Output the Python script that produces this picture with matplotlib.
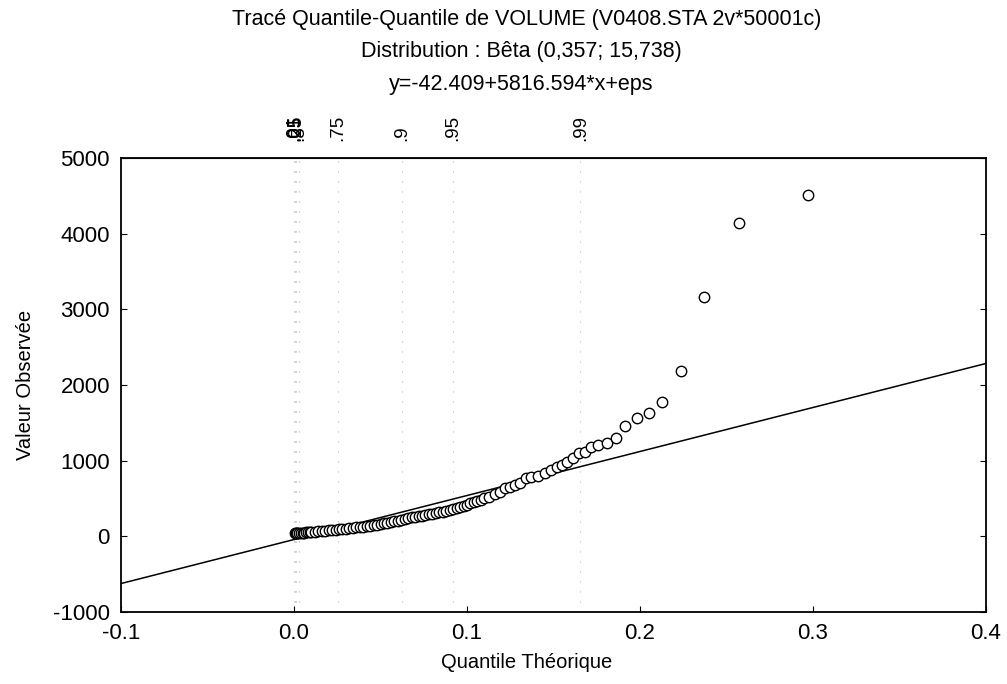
import numpy as np
import matplotlib
matplotlib.use('Agg')
import matplotlib.pyplot as plt

plt.rcParams['font.family'] = ['Liberation Sans', 'DejaVu Sans']
plt.rcParams['axes.unicode_minus'] = False

# Observed points: theoretical quantile (x) vs observed value (y)
theo_q = [0.0005, 0.001, 0.0015, 0.002, 0.003, 0.004, 0.005, 0.006, 0.007, 0.008,
          0.009, 0.010, 0.012, 0.014, 0.016, 0.018, 0.020, 0.022, 0.024, 0.026,
          0.028, 0.030, 0.032, 0.034, 0.036, 0.038, 0.040, 0.042, 0.044, 0.046,
          0.048, 0.050, 0.052, 0.054, 0.056, 0.058, 0.060, 0.062, 0.064, 0.066,
          0.068, 0.070, 0.072, 0.074, 0.076, 0.078, 0.080, 0.082, 0.084, 0.086,
          0.088, 0.090, 0.092, 0.094, 0.096, 0.098, 0.100, 0.102, 0.104, 0.106,
          0.108, 0.110, 0.113, 0.116, 0.119, 0.1218, 0.1246, 0.1275, 0.1305, 0.134,
          0.137, 0.141, 0.1448, 0.1486, 0.152, 0.155, 0.158, 0.161, 0.165, 0.168,
          0.1715, 0.176, 0.181, 0.186, 0.1916, 0.198, 0.205, 0.213, 0.2235, 0.237,
          0.257, 0.297]
observed = [38, 40, 41, 42, 44, 46, 48, 50, 52, 54,
            56, 58, 62, 66, 70, 74, 78, 82, 87, 92,
            97, 102, 106, 111, 117, 122, 128, 134, 141, 148,
            156, 164, 172, 180, 188, 196, 205, 215, 226, 238,
            250, 258, 266, 274, 282, 290, 298, 306, 315, 326,
            338, 350, 362, 378, 392, 405, 420, 436, 450, 466,
            482, 502, 523, 559, 589, 634, 655, 678, 700, 766,
            780, 797, 833, 876, 912, 942, 986, 1031, 1105, 1118,
            1176, 1206, 1229, 1295, 1458, 1559, 1634, 1779, 2186, 3165,
            4143, 4513]

# fitted line y = a + b*x
intercept = -42.409
slope = 5816.594

# percentile positions on the top axis
pct_labels = ['.01', '.05', '.25', '.5', '.75', '.9', '.95', '.99']
pct_pos = [0.0, 0.0003, 0.0012, 0.003, 0.0255, 0.0625, 0.092, 0.1656]

x_ticks = [-0.1, 0.0, 0.1, 0.2, 0.3, 0.4]
y_ticks = [-1000, 0, 1000, 2000, 3000, 4000, 5000]

fig = plt.figure(figsize=(10.07, 6.84), dpi=100)
ax = fig.add_axes([0.1202, 0.1053, 0.8589, 0.6637])

for p in pct_pos:
    ax.axvline(p, color='#b8b8b8', lw=0.8, ls=(0, (1, 8)), zorder=0)

xl = np.array([-0.1, 0.4])
ax.plot(xl, intercept + slope * xl, color='black', lw=1.1)
ax.plot(theo_q, observed, 'o', mfc='white', mec='black', ms=7.5, mew=1.0)

ax.set_xlim(-0.1, 0.4)
ax.set_ylim(-1000, 5000)
ax.set_xticks(x_ticks)
ax.set_xticklabels(['-0.1', '0.0', '0.1', '0.2', '0.3', '0.4'])
ax.set_yticks(y_ticks)
ax.tick_params(direction='in', length=4, labelsize=16, right=True, pad=8)
for s in ax.spines.values():
    s.set_linewidth(1.3)

top = ax.secondary_xaxis('top')
top.set_xticks(pct_pos)
top.set_xticklabels(pct_labels, rotation=90, fontsize=13.5)
top.tick_params(length=0, pad=12)

ax.set_xlabel('Quantile Théorique', fontsize=14.5)
ax.xaxis.set_label_coords(0.469, -0.09)
ax.set_ylabel('Valeur Observée', fontsize=14.5)
ax.yaxis.set_label_coords(-0.1, 0.5)

fig.text(0.523, 0.971, 'Tracé Quantile-Quantile de VOLUME (V0408.STA 2v*50001c)',
         ha='center', va='center', fontsize=15.5)
fig.text(0.518, 0.924, 'Distribution : Bêta (0,357; 15,738)',
         ha='center', va='center', fontsize=15.5)
fig.text(0.518, 0.876, 'y=-42.409+5816.594*x+eps',
         ha='center', va='center', fontsize=15.5)

fig.savefig('out.png', dpi=100)
